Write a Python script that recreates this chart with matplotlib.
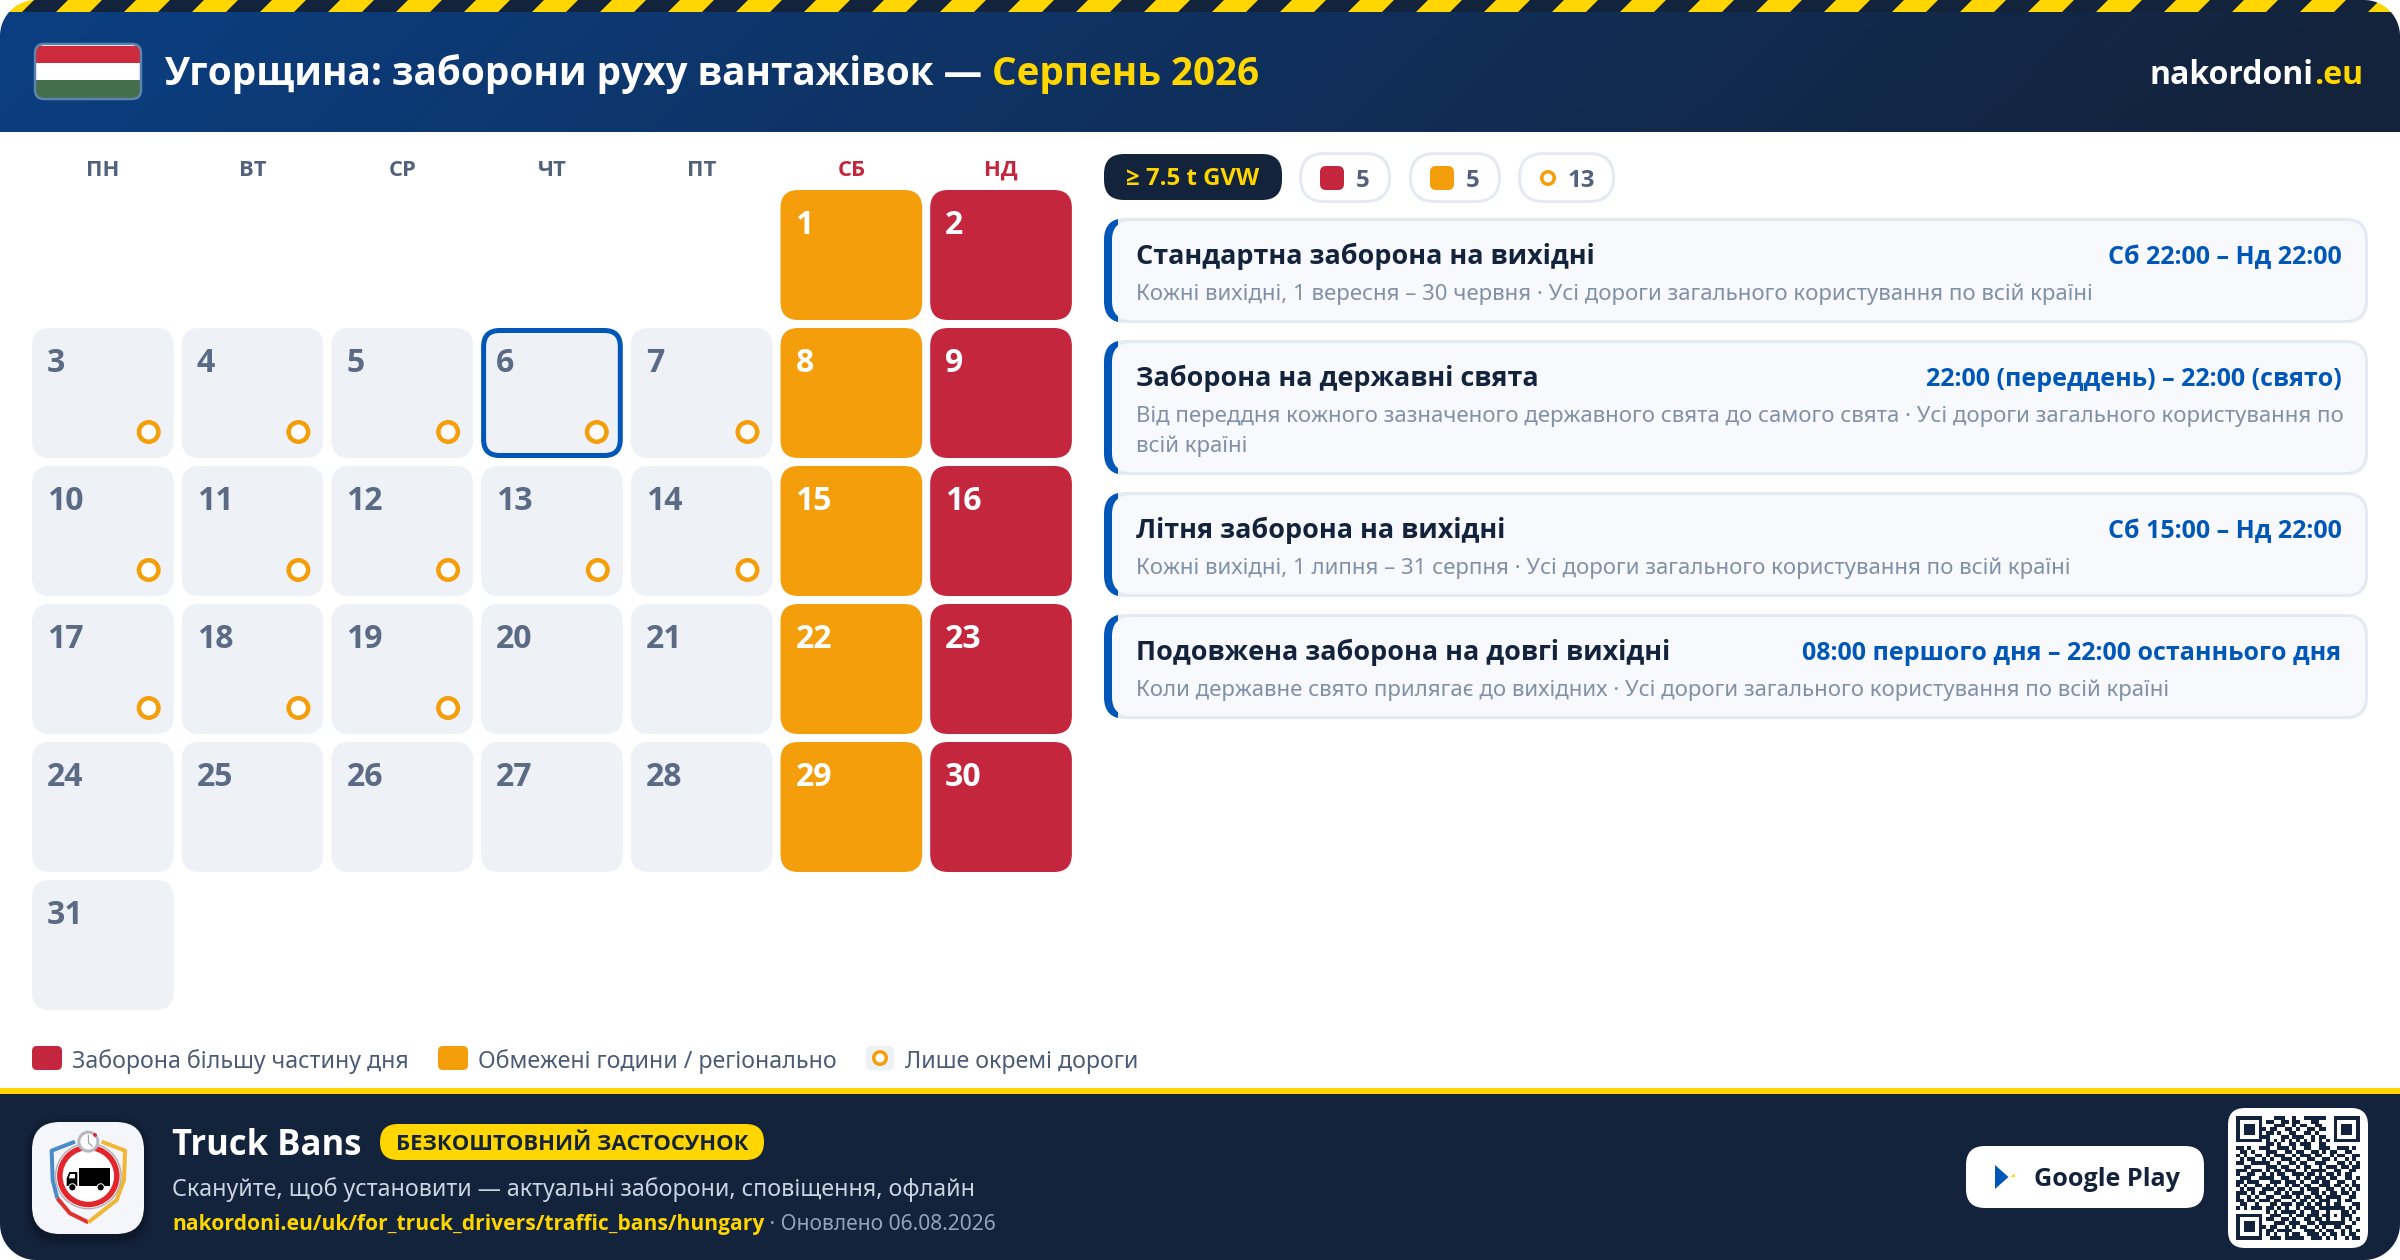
import numpy as np
import matplotlib
matplotlib.use('Agg')
import matplotlib.pyplot as plt
from matplotlib.patches import FancyBboxPatch, Rectangle, Polygon, Circle

plt.rcParams['font.family'] = ['Noto Sans', 'DejaVu Sans']

# 달력 데이터
WEEKDAYS = ['ПН', 'ВТ', 'СР', 'ЧТ', 'ПТ', 'СБ', 'НД']
DAYS = list(range(1, 32))
FIRST_WEEKDAY = 5
RED_DAYS = [2, 9, 16, 23, 30]
ORANGE_DAYS = [1, 8, 15, 22, 29]
RING_DAYS = [3, 4, 5, 6, 7, 10, 11, 12, 13, 14, 17, 18, 19]
TODAY = 6

# 오른쪽 카드
CARD_TITLES = ['Стандартна заборона на вихідні', 'Заборона на державні свята',
               'Літня заборона на вихідні', 'Подовжена заборона на довгі вихідні']
CARD_TIMES = ['Сб 22:00 – Нд 22:00', '22:00 (переддень) – 22:00 (свято)',
              'Сб 15:00 – Нд 22:00', '08:00 першого дня – 22:00 останнього дня']
CARD_SUBS = [['Кожні вихідні, 1 вересня – 30 червня · Усі дороги загального користування по всій країні'],
             ['Від переддня кожного зазначеного державного свята до самого свята · Усі дороги загального користування по',
              'всій країні'],
             ['Кожні вихідні, 1 липня – 31 серпня · Усі дороги загального користування по всій країні'],
             ['Коли державне свято прилягає до вихідних · Усі дороги загального користування по всій країні']]
CARD_TOPS = [218, 340, 492, 614]
CARD_BOTTOMS = [323, 475, 597, 719]

LEGEND_LABELS = ['Заборона більшу частину дня', 'Обмежені години / регіонально', 'Лише окремі дороги']

QR_ROWS = [
    '111111100011100100111111001111111',
    '100000101100110110001100001000001',
    '101110100011100101100110001011101',
    '101110110110011010011011001011101',
    '101110101101001100110100001011101',
    '100000111000110111001011001000001',
    '111111101010101010101010101111111',
    '000000001101001101110011000000000',
    '110100111001110100110011100111010',
    '011010001110011011001101011001100',
    '101001101011100101110110010110011',
    '010110010100111010011001101001010',
    '110011111001001101100111000110101',
    '001100001110110010110010111011011',
    '111011101011011100101111001100110',
    '100110010101100111011010110101100',
    '011100111100110010110111011001101',
    '110111000111011101001101100110010',
    '101001101010010110110011101101011',
    '010110011101101001011100110010101',
    '111010110011010111001101011011010',
    '100101001100111010110110111100110',
    '110110111011000101101011100101100',
    '011001000110111011010110101100011',
    '101011101101010010111011111110101',
    '000000001010111101001100100011010',
    '111111100111001011011101101011100',
    '100000101100110100110110100010101',
    '101110100011101110011011111110010',
    '101110110110010101100101001101100',
    '101110101101111000111010110010101',
    '100000101010010110011101011010110',
    '111111100111011111001110101001011',
]

# 색상
NAVY = '#14233c'
YELLOW = '#ffd600'
RED = '#c4263d'
ORANGE = '#f59e0b'
BLUE = '#0057b8'
CELL = '#eef1f6'
LINE = '#e4e9f2'
CARD_BG = '#f7f9fd'
SLATE = '#52627c'
MUTED = '#8090a6'


def px(size):
    # 글자 크기 px -> pt
    return size * 0.72


fig = plt.figure(figsize=(24, 12.6), dpi=100)
ax = fig.add_axes([0, 0, 1, 1])
ax.set_axis_off()


def box(x0, y0, x1, y1, r, fc, ec='none', lw=0, z=2):
    p = FancyBboxPatch((x0, y0), x1 - x0, y1 - y0, boxstyle=f'round,pad=0,rounding_size={r}',
                       fc=fc, ec=ec, lw=lw * 0.72, zorder=z)
    ax.add_patch(p)
    return p


def text(x, y, s, size, color, weight='normal', ha='left', z=5):
    # Noto Sans에는 굵은 글꼴이 없어서 Open Sans 사용
    fam = ['Open Sans', 'DejaVu Sans'] if weight == 'bold' else ['Noto Sans', 'DejaVu Sans']
    return ax.text(x, y, s, fontsize=px(size), color=color, fontweight=weight, family=fam,
                   ha=ha, va='baseline', zorder=z)


def right_edge(t):
    return t.get_window_extent(fig.canvas.get_renderer()).x1


def ring(cx, cy, r, width, color=ORANGE, fill='white', z=4):
    ax.add_patch(Circle((cx, cy), r - width / 2, fc=fill, ec=color, lw=width * 0.72, zorder=z))


# 헤더 그라데이션
grad_x, grad_y = np.meshgrid(np.linspace(0, 1, 600), np.linspace(0, 1, 30))
grad = grad_x + grad_y * 0.05
c0, c1 = np.array([0x0b, 0x3f, 0x82]) / 255, np.array([0x14, 0x23, 0x3c]) / 255
img = c0[None, None, :] + (c1 - c0)[None, None, :] * np.clip(grad, 0, 1)[:, :, None]
ax.imshow(img, extent=(0, 2400, 132, 12), aspect='auto', zorder=1, interpolation='bilinear')

# 경고 줄무늬
ax.add_patch(Rectangle((0, 0), 2400, 12, fc=NAVY, ec='none', zorder=1))
for k in range(-1, 36):
    x = 56 + 68 * k
    ax.add_patch(Polygon([(x, 12), (x + 34, 12), (x + 46, 0), (x + 12, 0)], fc=YELLOW, ec='none', zorder=2))

# 국기
flag_box = box(35, 44, 141, 99, 9, '#ffffff', z=3)
for i, col in enumerate(['#cd2a3e', '#ffffff', '#436f4d']):
    s = ax.add_patch(Rectangle((35, 45.5 + i * 17.4), 106, 17.4, fc=col, ec='none', zorder=3))
    s.set_clip_path(flag_box)
box(35, 44, 141, 99, 9, 'none', ec='#5f82ad', lw=2.5, z=4)

t = text(164, 85.5, 'Угорщина: заборони руху вантажівок — ', 38.6, 'white', 'bold')
text(right_edge(t), 85.5, 'Серпень 2026', 38.6, YELLOW, 'bold')
t = text(2363, 84, '.eu', 32, YELLOW, 'bold', ha='right')
text(t.get_window_extent(fig.canvas.get_renderer()).x0, 84, 'nakordoni', 32, 'white', 'bold', ha='right')

# 달력
CELL_W, CELL_H = 141.7, 130
PITCH_X, PITCH_Y = 149.7, 138
for i, name in enumerate(WEEKDAYS):
    cx = 32 + i * PITCH_X + CELL_W / 2
    text(cx, 176, name, 22, RED if i >= 5 else SLATE, 'bold', ha='center')

for d in DAYS:
    pos = FIRST_WEEKDAY + d - 1
    col, row = pos % 7, pos // 7
    x0, y0 = 32 + col * PITCH_X, 190 + row * PITCH_Y
    x1, y1 = x0 + CELL_W, y0 + CELL_H
    fc, tc = CELL, '#5b6b85'
    if d in RED_DAYS:
        fc, tc = RED, 'white'
    elif d in ORANGE_DAYS:
        fc, tc = ORANGE, 'white'
    if d == TODAY:
        box(x0 + 2.5, y0 + 2.5, x1 - 2.5, y1 - 2.5, 16, fc, ec=BLUE, lw=5)
    else:
        box(x0, y0, x1, y1, 18, fc)
    text(x0 + 15, y0 + 44.5, str(d), 32, tc, 'bold')
    if d in RING_DAYS:
        ring(x1 - (26 if d == TODAY else 25), y1 - 26, 12, 4.5)

# 범례
for i, (label, sx, tx) in enumerate(zip(LEGEND_LABELS, [32, 438, 866], [72, 478, 905])):
    if i < 2:
        box(sx, 1046, sx + 30, 1070, 5, [RED, ORANGE][i])
    else:
        box(sx, 1046, sx + 28, 1070, 5, CELL)
        ring(sx + 14, 1058, 8, 3.5)
    text(tx, 1068, label, 23.2, '#4b5b75')

# 칩
box(1104, 154, 1282, 200, 20, NAVY)
text(1193, 185, '≥ 7.5 t GVW', 24, YELLOW, 'bold', ha='center')
CHIP_X = [(1299, 1391), (1409, 1501), (1518, 1615)]
CHIP_COUNTS = [len(RED_DAYS), len(ORANGE_DAYS), len(RING_DAYS)]
for i, ((x0, x1), n) in enumerate(zip(CHIP_X, CHIP_COUNTS)):
    box(x0 + 1.5, 153.5, x1 - 1.5, 201.5, 24, 'white', ec=LINE, lw=3)
    if i < 2:
        box(x0 + 21, 166, x0 + 45, 190, 6, [RED, ORANGE][i], z=3)
    else:
        ring(x0 + 30, 178, 8, 3.5, z=3)
    text(x0 + (57 if i < 2 else 50), 187, str(n), 24, SLATE, 'bold')

# 카드
for title, when, subs, top, bot in zip(CARD_TITLES, CARD_TIMES, CARD_SUBS, CARD_TOPS, CARD_BOTTOMS):
    box(1104, top, 2368, bot, 22, LINE, z=2)
    blue = box(1104, top, 2368, bot, 22, BLUE, z=2.1)
    blue.set_clip_path(Rectangle((1104, top), 14, bot - top, transform=ax.transData))
    box(1112, top + 3, 2365, bot - 3, 19, CARD_BG, z=2.2)
    base = top + 46
    text(1136, base, title, 27, NAVY, 'bold')
    text(2341.5, base, when, 25, BLUE, 'bold', ha='right')
    for j, sub in enumerate(subs):
        text(1136, base + 36 + j * 30, sub, 22.2, MUTED)

# 푸터
ax.add_patch(Rectangle((0, 1088), 2400, 6, fc=YELLOW, ec='none', zorder=2))
ax.add_patch(Rectangle((0, 1094), 2400, 166, fc=NAVY, ec='none', zorder=1))

# 앱 아이콘
for grow, alpha in [(10, 0.04), (7, 0.06), (4, 0.08), (2, 0.1)]:
    sh = box(32 - grow, 1122 - grow + 4, 144 + grow, 1234 + grow + 4, 28 + grow, 'black', z=2)
    sh.set_alpha(alpha)
box(32, 1122, 144, 1234, 28, '#f4f6fb', z=3)


def ic(x, y):
    return 20 + x / 3, 1100 + y / 3


def icon_line(points, color, w):
    xy = np.array([ic(*p) for p in points])
    ax.plot(xy[:, 0], xy[:, 1], color=color, lw=w * 0.72, solid_capstyle='butt', solid_joinstyle='round', zorder=3.2)


icon_line([(165, 125), (95, 152), (98, 240), (112, 295)], '#4a8ccb', 4)
icon_line([(112, 295), (150, 340), (205, 367)], '#e1312f', 4)
icon_line([(245, 125), (315, 152), (312, 240), (290, 300), (205, 367)], '#f2b632', 4)
cx, cy = ic(205, 228)
ax.add_patch(Circle((cx, cy), 33.5, fc='#aeb3ba', ec='none', zorder=3.3))
ax.add_patch(Circle((cx, cy), 32, fc='white', ec='none', zorder=3.35))
ax.add_patch(Circle((cx, cy), 28.5, fc='white', ec='#e3262e', lw=5.5 * 0.72, zorder=3.4))
x0, y0 = ic(178, 205)
x1, y1 = ic(270, 258)
ax.add_patch(Rectangle((x0, y0), x1 - x0, y1 - y0, fc='black', ec='none', zorder=3.5))
ax.add_patch(Polygon([ic(140, 258), ic(140, 235), ic(148, 216), ic(172, 216), ic(172, 258)], fc='black', ec='none', zorder=3.5))
ax.add_patch(Polygon([ic(146, 235), ic(151, 222), ic(165, 222), ic(165, 235)], fc='white', ec='none', zorder=3.6))
for wx in [157, 242]:
    ax.add_patch(Circle(ic(wx, 262), 3.6, fc='black', ec='white', lw=0.7, zorder=3.7))
ax.add_patch(Circle(ic(205, 125), 9.5, fc='white', ec='#b5b9bf', lw=3 * 0.72, zorder=3.8))
icon_line([(205, 105), (205, 128), (218, 140)], '#8a9099', 1)
ax.lines[-1].set_zorder(3.9)
ax.add_patch(Circle(ic(225, 105), 1.9, fc='#e3262e', ec='none', zorder=3.95))

# 푸터 텍스트
text(172, 1155, 'Truck Bans', 34.6, 'white', 'bold')
box(380, 1124, 764, 1160, 18, YELLOW)
text(572, 1150, 'БЕЗКОШТОВНИЙ ЗАСТОСУНОК', 22, NAVY, 'bold', ha='center')
text(172, 1196, 'Скануйте, щоб установити — актуальні заборони, сповіщення, офлайн', 23.3, '#cbd5e1')
t = text(172, 1230, 'nakordoni.eu/uk/for_truck_drivers/traffic_bans/hungary', 21, YELLOW, 'bold')
text(right_edge(t), 1230, ' · Оновлено 06.08.2026', 21, '#94a3b8')

# 구글 플레이 버튼
box(1966, 1146, 2204, 1208, 19, 'white')
ax.add_patch(Polygon([(1995, 1165), (2008.5, 1177), (1995, 1189)], fc=BLUE, ec='none', zorder=3))
ax.add_patch(Polygon([(2010, 1176.5), (2015, 1174), (2015, 1177)], fc=YELLOW, ec='none', zorder=3))
text(2034, 1186, 'Google Play', 25.2, NAVY, 'bold')

# QR 코드
box(2228, 1108, 2368, 1248, 17, 'white')
QR_STEP = 124 / 33
for r, row in enumerate(QR_ROWS):
    for c, v in enumerate(row):
        if v == '1':
            ax.add_patch(Rectangle((2236 + c * QR_STEP, 1116 + r * QR_STEP), QR_STEP, QR_STEP,
                                   fc=NAVY, ec='none', lw=0, zorder=3))

# 바깥 모서리
R = 36
arc = np.linspace(0, np.pi / 2, 30)
for (cx, cy, sx, sy) in [(0, 0, 1, 1), (2400, 0, -1, 1), (0, 1260, 1, -1), (2400, 1260, -1, -1)]:
    pts = [(cx, cy)]
    pts += [(cx + sx * (R - R * np.cos(a)), cy + sy * (R - R * np.sin(a))) for a in arc]
    ax.add_patch(Polygon(pts, fc='white', ec='none', zorder=10))

ax.set_xlim(0, 2400)
ax.set_ylim(1260, 0)
fig.savefig('out.png', dpi=100, facecolor='white')
plt.close(fig)
